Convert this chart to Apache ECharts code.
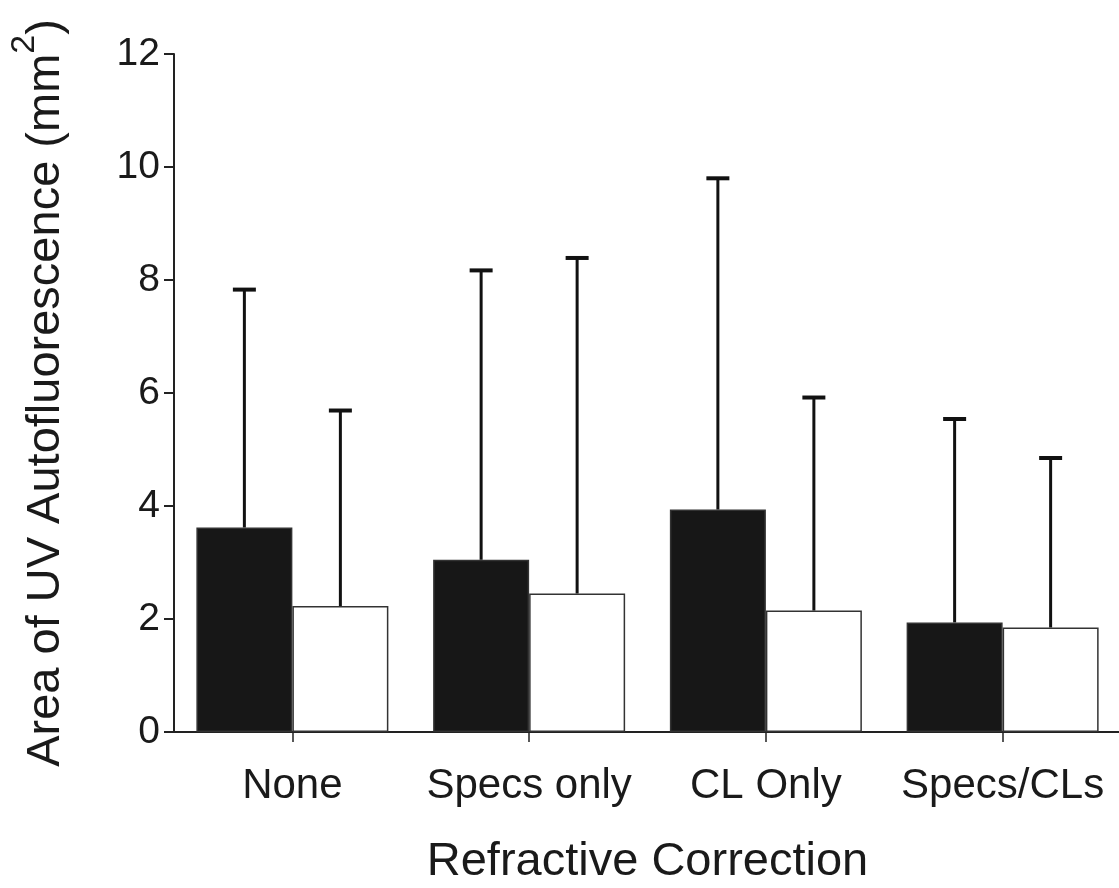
<!DOCTYPE html>
<html>
<head>
<meta charset="utf-8">
<script src="https://cdn.jsdelivr.net/npm/echarts@6/dist/echarts.min.js"></script>
<style>
html,body{margin:0;padding:0;background:#ffffff;}
#chart{width:1119px;height:888px;}
</style>
</head>
<body>
<div id="chart"></div>
<script>
// ---- data ----
const categories = ['None', 'Specs only', 'CL Only', 'Specs/CLs'];
const meanBlack = [3.62, 3.05, 3.94, 1.94];
const sdBlack   = [4.21, 5.12, 5.86, 3.60];
const meanWhite = [2.23, 2.45, 2.15, 1.85];
const sdWhite   = [3.46, 5.94, 3.77, 3.00];
const yTicks = [0, 2, 4, 6, 8, 10, 12];

const BAR_W = 96;
const FONT = '"Liberation Sans", Arial, sans-serif';
const INK = '#1a1a1a';

function errData(means, sds) {
  return means.map((m, i) => [i, m + sds[i], m]);
}
function errRender(offset) {
  return function (params, api) {
    const top = api.coord([api.value(0), api.value(1)]);
    const base = api.coord([api.value(0), api.value(2)]);
    const cx = top[0] + offset;
    return {
      type: 'group',
      children: [
        { type: 'line', shape: { x1: cx, y1: base[1], x2: cx, y2: top[1] },
          style: { stroke: '#111', lineWidth: 3 } },
        { type: 'line', shape: { x1: cx - 11.5, y1: top[1], x2: cx + 11.5, y2: top[1] },
          style: { stroke: '#111', lineWidth: 4 } }
      ]
    };
  };
}

const chart = echarts.init(document.getElementById('chart'));
chart.setOption({
  backgroundColor: '#ffffff',
  animation: false,
  grid: { left: 174, top: 54, width: 947, height: 678, containLabel: false, outerBoundsMode: 'none' },
  xAxis: {
    type: 'category',
    data: categories,
    name: 'Refractive Correction',
    nameLocation: 'middle',
    nameGap: 107,
    nameTextStyle: { fontFamily: FONT, fontSize: 47, color: INK },
    axisLine: { show: true, lineStyle: { color: '#222', width: 2 } },
    axisTick: { show: true, alignWithLabel: true, length: 10, lineStyle: { color: '#222', width: 1.5 } },
    axisLabel: { fontFamily: FONT, fontSize: 42, color: INK, margin: 33, interval: 0 },
    splitLine: { show: false }
  },
  yAxis: {
    type: 'value',
    min: yTicks[0],
    max: yTicks[yTicks.length - 1],
    interval: 2,
    name: '{a|Area of UV Autofluorescence (mm}{s|2}{a|)}',
    nameLocation: 'middle',
    nameRotate: 90,
    nameGap: 104,
    nameTextStyle: {
      fontFamily: FONT, color: INK,
      rich: {
        a: { fontFamily: FONT, fontSize: 47, color: INK, lineHeight: 62, verticalAlign: 'bottom' },
        s: { fontFamily: FONT, fontSize: 34, color: INK, lineHeight: 34, verticalAlign: 'top' }
      }
    },
    axisLine: { show: true, lineStyle: { color: '#222', width: 2 } },
    axisTick: { show: true, length: 10, lineStyle: { color: '#222', width: 2 } },
    axisLabel: { fontFamily: FONT, fontSize: 39, color: INK, margin: 14 },
    splitLine: { show: false }
  },
  series: [
    {
      type: 'bar', data: meanBlack, barWidth: BAR_W, barGap: '0%',
      itemStyle: { color: '#171717', borderColor: '#333', borderWidth: 1.5 },
      z: 2
    },
    {
      type: 'bar', data: meanWhite, barWidth: BAR_W, barGap: '0%',
      itemStyle: { color: '#ffffff', borderColor: '#333', borderWidth: 1.5 },
      z: 2
    },
    {
      type: 'custom', data: errData(meanBlack, sdBlack),
      encode: { x: 0, y: 1 }, renderItem: errRender(-BAR_W / 2), z: 3, silent: true
    },
    {
      type: 'custom', data: errData(meanWhite, sdWhite),
      encode: { x: 0, y: 1 }, renderItem: errRender(BAR_W / 2), z: 3, silent: true
    }
  ]
});
</script>
</body>
</html>
